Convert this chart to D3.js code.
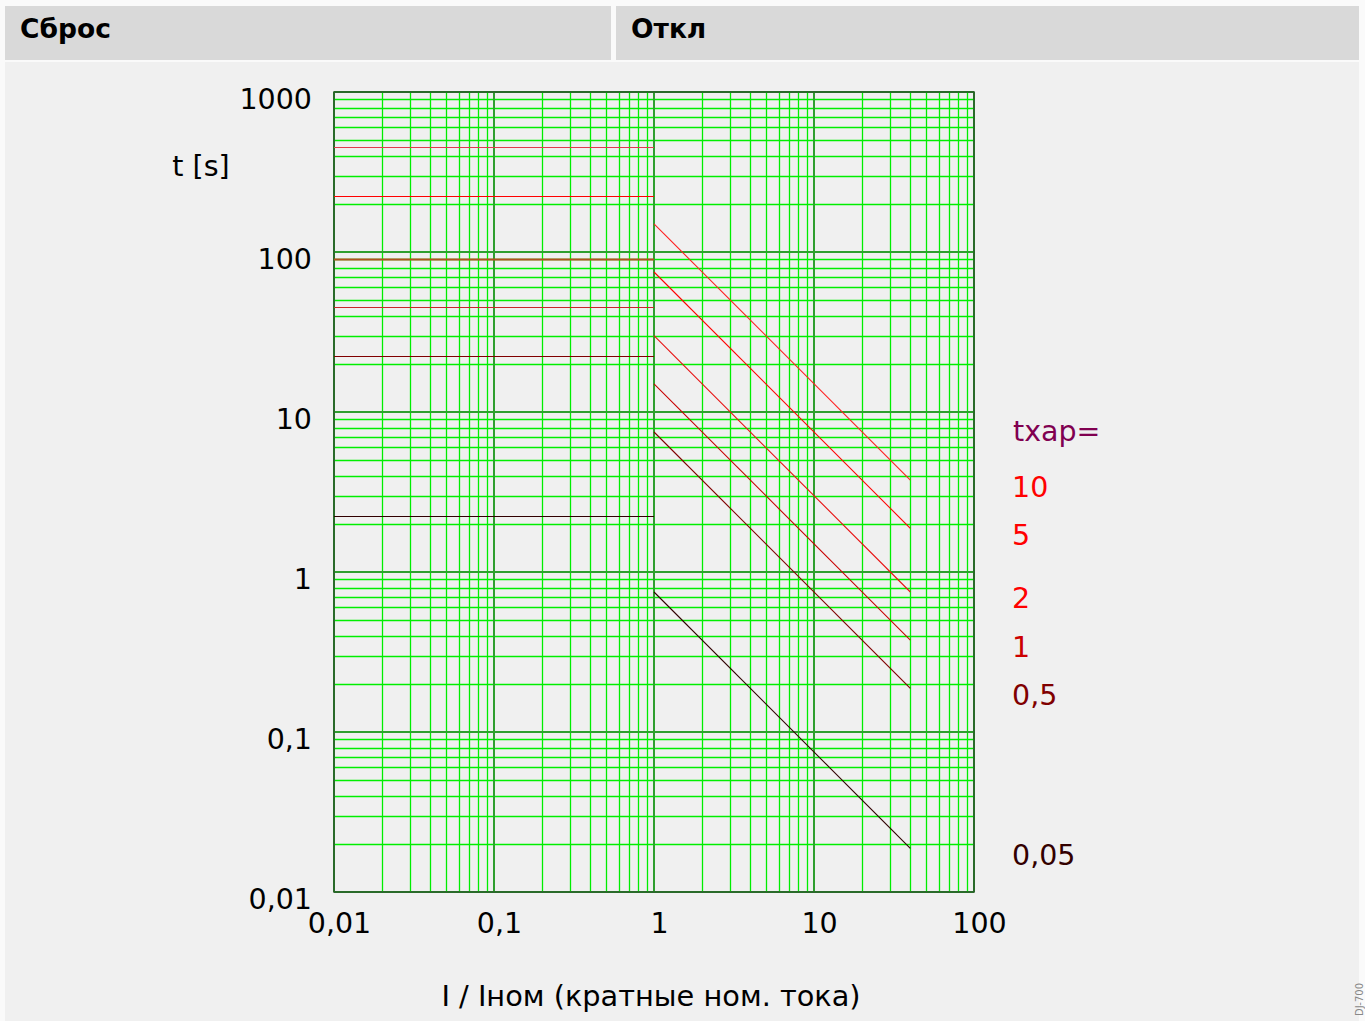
<!DOCTYPE html>
<html>
<head>
<meta charset="utf-8">
<script src="https://cdn.jsdelivr.net/npm/d3@7/dist/d3.min.js"></script>
<style>
html,body{margin:0;padding:0;background:#fafafa;}
svg{display:block;font-family:"DejaVu Sans",sans-serif;}
</style>
</head>
<body>
<svg id="chart" width="1365" height="1021"></svg>
<script>
// ---- data ----
const headers = ["Сброс", "Откл"];
const xTicks = [0.01, 0.1, 1, 10, 100];
const xTickLabels = ["0,01", "0,1", "1", "10", "100"];
const yTicks = [0.01, 0.1, 1, 10, 100, 1000];
const yTickLabels = ["0,01", "0,1", "1", "10", "100", "1000"];
const tcharLabels = ["10", "5", "2", "1", "0,5", "0,05"];
const resetTimes = [450, 225, 90, 45, 22.5, 2.25];     // t at I/In from 0.01 to 1
const resetRange = [0.01, 1];
const tripStartI = [1, 1, 1, 1, 1, 1];
const tripStartT = [150, 75, 30, 15, 7.5, 0.75];
const tripEndI = [40, 40, 40, 40, 40, 40];
const tripEndT = [3.75, 1.875, 0.75, 0.375, 0.1875, 0.01875];
const curveColors = ["#ff2020", "#ff0000", "#e81010", "#c80000", "#800000", "#300000"];
const resetColors = ["#e03c4c", "#ff0000", "#b05020", "#c82828", "#800000", "#300000"];
const labelColors = ["#ff0000", "#ff0000", "#ff0000", "#cc0000", "#800000", "#330000"];
const labelT = [3.4, 1.7, 0.69, 0.34, 0.17, 0.017]; // label vertical positions (t values)

const svg = d3.select("#chart");
const W = 1365, H = 1021;

// background panels
svg.append("rect").attr("x",0).attr("y",0).attr("width",W).attr("height",H).attr("fill","#fafafa");
svg.append("rect").attr("x",5).attr("y",6).attr("width",606).attr("height",54).attr("fill","#d9d9d9");
svg.append("rect").attr("x",616).attr("y",6).attr("width",743).attr("height",54).attr("fill","#d9d9d9");
svg.append("rect").attr("x",5).attr("y",62).attr("width",1354).attr("height",H-62).attr("fill","#f0f0f0");

svg.append("text").attr("x",20).attr("y",38).attr("font-size",26.5).attr("font-weight","bold").text(headers[0]);
svg.append("text").attr("x",631).attr("y",38).attr("font-size",26.5).attr("font-weight","bold").text(headers[1]);

const x = d3.scaleLog().domain([0.01,100]).range([334,974]);
const y = d3.scaleLog().domain([0.01,1000]).range([892,92]);

// grid
const minorVals = (lo, hi) => {
  const out = [];
  for (let e = Math.log10(lo); e < Math.log10(hi); e++) {
    for (let m = 2; m <= 9; m++) out.push(m * Math.pow(10, e));
  }
  return out;
};
const g = svg.append("g");
g.selectAll(".vmin").data(minorVals(0.01,100)).enter().append("line")
  .attr("x1",d=>Math.round(x(d))+0.5).attr("x2",d=>Math.round(x(d))+0.5)
  .attr("y1",y(1000)).attr("y2",y(0.01)).attr("stroke","#00ee00").attr("stroke-width",1.3);
g.selectAll(".hmin").data(minorVals(0.01,1000)).enter().append("line")
  .attr("y1",d=>Math.round(y(d))+0.5).attr("y2",d=>Math.round(y(d))+0.5)
  .attr("x1",x(0.01)).attr("x2",x(100)).attr("stroke","#00ee00").attr("stroke-width",1.3);
g.selectAll(".vmaj").data(xTicks).enter().append("line")
  .attr("x1",d=>x(d)).attr("x2",d=>x(d))
  .attr("y1",y(1000)).attr("y2",y(0.01)).attr("stroke","#2f9f2f").attr("stroke-width",2);
g.selectAll(".hmaj").data(yTicks).enter().append("line")
  .attr("y1",d=>y(d)).attr("y2",d=>y(d))
  .attr("x1",x(0.01)).attr("x2",x(100)).attr("stroke","#2f9f2f").attr("stroke-width",2);
g.append("rect").attr("x",x(0.01)).attr("y",y(1000)).attr("width",x(100)-x(0.01)).attr("height",y(0.01)-y(1000))
  .attr("fill","none").attr("stroke","#2a5a2a").attr("stroke-width",1.5);

// reset lines
svg.selectAll(".reset").data(resetTimes).enter().append("line")
  .attr("x1",x(resetRange[0])).attr("x2",x(resetRange[1]))
  .attr("y1",d=>Math.round(y(d))+0.5).attr("y2",d=>Math.round(y(d))+0.5)
  .attr("stroke",(d,i)=>resetColors[i]).attr("stroke-width",(d,i)=>i===2?2:1.2);

// trip curves
const line = d3.line().x(d=>x(d[0])).y(d=>y(d[1]));
svg.selectAll(".trip").data(tripStartT.map((t,i)=>[[tripStartI[i],t],[tripEndI[i],tripEndT[i]]]))
  .enter().append("path").attr("d",line).attr("fill","none")
  .attr("stroke",(d,i)=>curveColors[i]).attr("stroke-width",1.1);

// axes
const xAxis = d3.axisBottom(x).tickValues(xTicks).tickFormat((d,i)=>xTickLabels[i]).tickSize(0).tickPadding(0);
const xg = svg.append("g").attr("transform",`translate(5,${892})`).call(xAxis);
xg.select(".domain").remove();
xg.selectAll("text").attr("font-size",28.5).attr("font-family","DejaVu Sans").attr("fill","#000").attr("dy",0).attr("y",41);

const yAxis = d3.axisLeft(y).tickValues(yTicks).tickFormat((d,i)=>yTickLabels[i]).tickSize(0).tickPadding(0);
const yg = svg.append("g").attr("transform",`translate(312,7)`).call(yAxis);
yg.select(".domain").remove();
yg.selectAll("text").attr("font-size",28.5).attr("font-family","DejaVu Sans").attr("fill","#000").attr("x",0);

svg.append("text").attr("x",201).attr("y",176).attr("text-anchor","middle").attr("font-size",28.5).text("t [s]");
svg.append("text").attr("x",651).attr("y",1006).attr("text-anchor","middle").attr("font-size",28.8).text("I / Iном (кратные ном. тока)");

// legend
svg.append("text").attr("x",1013).attr("y",441).attr("font-size",28.5).attr("fill","#800050").text("tхар=");
svg.selectAll(".lab").data(tcharLabels).enter().append("text")
  .attr("x",1012).attr("y",(d,i)=>y(labelT[i])+10).attr("font-size",28.5)
  .attr("fill",(d,i)=>labelColors[i]).text(d=>d);

// side id
svg.append("text").attr("transform","translate(1363,1016) rotate(-90)").attr("font-size",10).attr("fill","#888").text("DJ-700");
</script>
</body>
</html>
